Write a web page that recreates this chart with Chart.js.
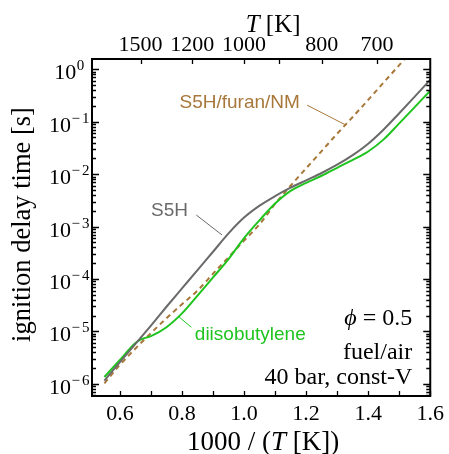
<!DOCTYPE html>
<html>
<head>
<meta charset="utf-8">
<script src="https://cdn.jsdelivr.net/npm/chart.js@4.4.1/dist/chart.umd.min.js"></script>
<style>
  html, body { margin: 0; padding: 0; background: #fff; }
</style>
</head>
<body>
<canvas id="c" width="449" height="454"></canvas>
<script>
// 1000/T [1/K] and ignition delay time [s]
const invTempS5H = [0.55, 0.6, 0.65, 0.7, 0.75, 0.8, 0.85, 0.9, 0.95, 1.0, 1.05, 1.1, 1.15, 1.2, 1.25, 1.3, 1.35, 1.4, 1.45, 1.5, 1.55, 1.6];
const tauS5H = [1.15e-6, 2.6e-6, 5.75e-6, 1.29e-5, 2.95e-5, 6.6e-5, 1.48e-4, 3.3e-4, 7.4e-4, 1.48e-3, 2.5e-3, 3.8e-3, 5.5e-3, 7.6e-3, 1.05e-2, 1.51e-2, 2.3e-2, 3.8e-2, 7.1e-2, 0.145, 0.30, 0.63];

const invTempDiib = [0.55, 0.6, 0.65, 0.67, 0.7, 0.75, 0.8, 0.85, 0.9, 0.95, 1.0, 1.05, 1.1, 1.15, 1.2, 1.25, 1.3, 1.35, 1.4, 1.45, 1.5, 1.55, 1.6];
const tauDiib = [1.35e-6, 2.85e-6, 6.0e-6, 7.1e-6, 8.1e-6, 1.2e-5, 2.2e-5, 4.8e-5, 1.07e-4, 2.4e-4, 6.0e-4, 1.32e-3, 2.75e-3, 4.8e-3, 6.8e-3, 9.3e-3, 1.32e-2, 1.86e-2, 2.7e-2, 4.6e-2, 9.3e-2, 0.19, 0.39];

const invTempFuran = [0.55, 0.6, 0.65, 0.7, 0.75, 0.8, 0.85, 0.9, 0.95, 1.0, 1.05, 1.1, 1.15, 1.2, 1.25, 1.3, 1.35, 1.4, 1.45, 1.5, 1.55];
const tauFuran = [1.02e-6, 2.3e-6, 4.7e-6, 9.3e-6, 1.78e-5, 3.3e-5, 6.0e-5, 1.26e-4, 2.6e-4, 5.4e-4, 1.1e-3, 2.7e-3, 6.0e-3, 1.29e-2, 2.75e-2, 5.9e-2, 0.123, 0.26, 0.56, 1.2, 2.6];

// axes
const xTickValues = [0.6, 0.7, 0.8, 0.9, 1.0, 1.1, 1.2, 1.3, 1.4, 1.5, 1.6];
const xTickLabels = ['0.6', '', '0.8', '', '1.0', '', '1.2', '', '1.4', '', '1.6'];
const topTemps = [1500, 1200, 1000, 900, 800, 700];
const topTempLabels = ['1500', '1200', '1000', '', '800', '700'];
const yDecades = [-6, -5, -4, -3, -2, -1, 0];

const colS5H = '#6a6a6a';
const colDiib = '#1fc41f';
const colFuran = '#a8773a';

const serif = "'Liberation Serif', 'Times New Roman', serif";
const sans = "'Liberation Sans', Arial, sans-serif";

function pts(xs, ys) {
    return xs.map((x, i) => ({ x: x, y: ys[i] }));
}

// draw a run of text pieces, some italic
function richText(ctx, pieces, x, y, size, align) {
    let w = 0;
    pieces.forEach(p => {
        ctx.font = (p.i ? 'italic ' : '') + size + 'px ' + serif;
        p.w = ctx.measureText(p.t).width;
        w += p.w;
    });
    let cx = align === 'right' ? x - w : align === 'center' ? x - w / 2 : x;
    ctx.textAlign = 'left';
    pieces.forEach(p => {
        ctx.font = (p.i ? 'italic ' : '') + size + 'px ' + serif;
        ctx.fillText(p.t, cx, y);
        cx += p.w;
    });
}

const decorations = {
    id: 'decorations',
    afterDraw(chart) {
        const { ctx, chartArea: a, scales: { x, xTop, y } } = chart;
        ctx.save();
        ctx.strokeStyle = '#000';
        ctx.fillStyle = '#000';
        ctx.lineWidth = 1.3;

        // y ticks, inside, both sides
        ctx.beginPath();
        for (let d = -7; d <= 0; d++) {
            for (let m = 1; m <= 9; m++) {
                const v = m * Math.pow(10, d);
                if (v < y.min || v > y.max) continue;
                const py = Math.round(y.getPixelForValue(v)) + 0.5;
                const len = m === 1 ? 7 : 4;
                ctx.moveTo(a.left, py); ctx.lineTo(a.left + len, py);
                ctx.moveTo(a.right, py); ctx.lineTo(a.right - len, py);
            }
        }
        // bottom ticks
        xTickValues.forEach(v => {
            const px = Math.round(x.getPixelForValue(v)) + 0.5;
            ctx.moveTo(px, a.bottom); ctx.lineTo(px, a.bottom - 5);
        });
        // top ticks
        topTemps.forEach(t => {
            const px = Math.round(xTop.getPixelForValue(1000 / t)) + 0.5;
            ctx.moveTo(px, a.top); ctx.lineTo(px, a.top + 5);
        });
        ctx.stroke();

        ctx.lineWidth = 2;
        ctx.strokeRect(a.left, a.top, a.right - a.left, a.bottom - a.top);

        // y tick labels 10^n
        ctx.textBaseline = 'alphabetic';
        yDecades.forEach(d => {
            const py = y.getPixelForValue(Math.pow(10, d));
            ctx.font = '22px ' + serif;
            const w1 = ctx.measureText('10').width;
            ctx.font = '15px ' + serif;
            const wm = d === 0 ? 0 : ctx.measureText('\u2212').width + 2;
            const wd = ctx.measureText(String(Math.abs(d))).width;
            const x0 = a.left - 23 - (w1 + wm + wd) / 2;
            ctx.textAlign = 'left';
            ctx.font = '22px ' + serif;
            ctx.fillText('10', x0, py + 10);
            ctx.font = '15px ' + serif;
            if (d !== 0) ctx.fillText('\u2212', x0 + w1 + 0.5, py + 1);
            ctx.fillText(String(Math.abs(d)), x0 + w1 + 0.5 + wm, py + 1);
        });

        // axis titles
        richText(ctx, [{ t: '1000 / (' }, { t: 'T', i: true }, { t: ' [K])' }], (a.left + a.right) / 2 + 2, 450, 27, 'center');
        richText(ctx, [{ t: 'T', i: true }, { t: ' [K]' }], (a.left + a.right) / 2 + 12, 32, 25, 'center');
        ctx.save();
        ctx.translate(30, (a.top + a.bottom) / 2 - 3);
        ctx.rotate(-Math.PI / 2);
        ctx.font = '26.5px ' + serif;
        ctx.textAlign = 'center';
        ctx.fillText('ignition delay time [s]', 0, 0);
        ctx.restore();

        // condition block
        const rx = a.right - 18;
        richText(ctx, [{ t: '\u03D5', i: true }, { t: ' = 0.5' }], rx, a.bottom - 71, 24, 'right');
        richText(ctx, [{ t: 'fuel/air' }], rx, a.bottom - 37, 24, 'right');
        richText(ctx, [{ t: '40 bar, const-V' }], rx, a.bottom - 12, 24, 'right');

        // curve labels with leader lines (data coordinates)
        const P = (vx, vy) => [x.getPixelForValue(vx), y.getPixelForValue(vy)];
        const label = (text, col, at, from, to) => {
            ctx.fillStyle = col;
            ctx.strokeStyle = col;
            ctx.lineWidth = 1;
            ctx.font = '19px ' + sans;
            ctx.textAlign = 'center';
            ctx.textBaseline = 'middle';
            const p = P(at[0], at[1]);
            ctx.fillText(text, p[0], p[1]);
            const f = P(from[0], from[1]), t = P(to[0], to[1]);
            ctx.beginPath();
            ctx.moveTo(f[0], f[1]); ctx.lineTo(t[0], t[1]);
            ctx.stroke();
        };
        label('S5H/furan/NM', colFuran, [0.986, 0.226], [1.203, 0.207], [1.328, 0.0863]);
        label('S5H', colS5H, [0.76, 2.0e-3], [0.846, 1.66e-3], [0.929, 6.9e-4]);
        label('diisobutylene', colDiib, [1.02, 8.5e-6], [0.79, 1.9e-5], [0.83, 1.2e-5]);

        ctx.restore();
    }
};

new Chart(document.getElementById('c').getContext('2d'), {
    type: 'line',
    data: {
        datasets: [
            {
                label: 'S5H',
                data: pts(invTempS5H, tauS5H),
                borderColor: colS5H,
                borderWidth: 2,
                pointRadius: 0,
                cubicInterpolationMode: 'monotone',
                xAxisID: 'x'
            },
            {
                label: 'diisobutylene',
                data: pts(invTempDiib, tauDiib),
                borderColor: colDiib,
                borderWidth: 2,
                pointRadius: 0,
                cubicInterpolationMode: 'monotone',
                xAxisID: 'x'
            },
            {
                label: 'S5H/furan/NM',
                data: pts(invTempFuran, tauFuran),
                borderColor: colFuran,
                borderWidth: 2,
                borderDash: [5, 4],
                pointRadius: 0,
                cubicInterpolationMode: 'monotone',
                xAxisID: 'x'
            }
        ]
    },
    options: {
        responsive: false,
        animation: false,
        devicePixelRatio: 1,
        layout: { padding: { left: 0, right: 16, top: 0, bottom: 0 } },
        plugins: { legend: { display: false }, tooltip: { enabled: false } },
        scales: {
            x: {
                type: 'linear',
                position: 'bottom',
                min: 0.51,
                max: 1.6,
                afterBuildTicks: s => { s.ticks = xTickValues.map(v => ({ value: v })); },
                afterFit: s => { s.height = 58; },
                grid: { display: false, drawTicks: false },
                border: { display: false },
                ticks: {
                    autoSkip: false,
                    maxRotation: 0,
                    padding: 5,
                    color: '#000',
                    font: { family: serif, size: 22 },
                    callback: (v, i) => xTickLabels[i]
                }
            },
            xTop: {
                type: 'linear',
                position: 'top',
                min: 0.51,
                max: 1.6,
                afterBuildTicks: s => { s.ticks = topTemps.map(t => ({ value: 1000 / t })); },
                afterFit: s => { s.height = 59; },
                grid: { display: false, drawTicks: false },
                border: { display: false },
                ticks: {
                    autoSkip: false,
                    maxRotation: 0,
                    padding: 1,
                    color: '#000',
                    font: { family: serif, size: 22 },
                    callback: (v, i) => topTempLabels[i]
                }
            },
            y: {
                type: 'logarithmic',
                min: 5.85e-7,
                max: 1.57,
                afterFit: s => { s.width = 92; },
                grid: { display: false, drawTicks: false },
                border: { display: false },
                ticks: { display: false }
            }
        }
    },
    plugins: [decorations]
});
</script>
</body>
</html>
